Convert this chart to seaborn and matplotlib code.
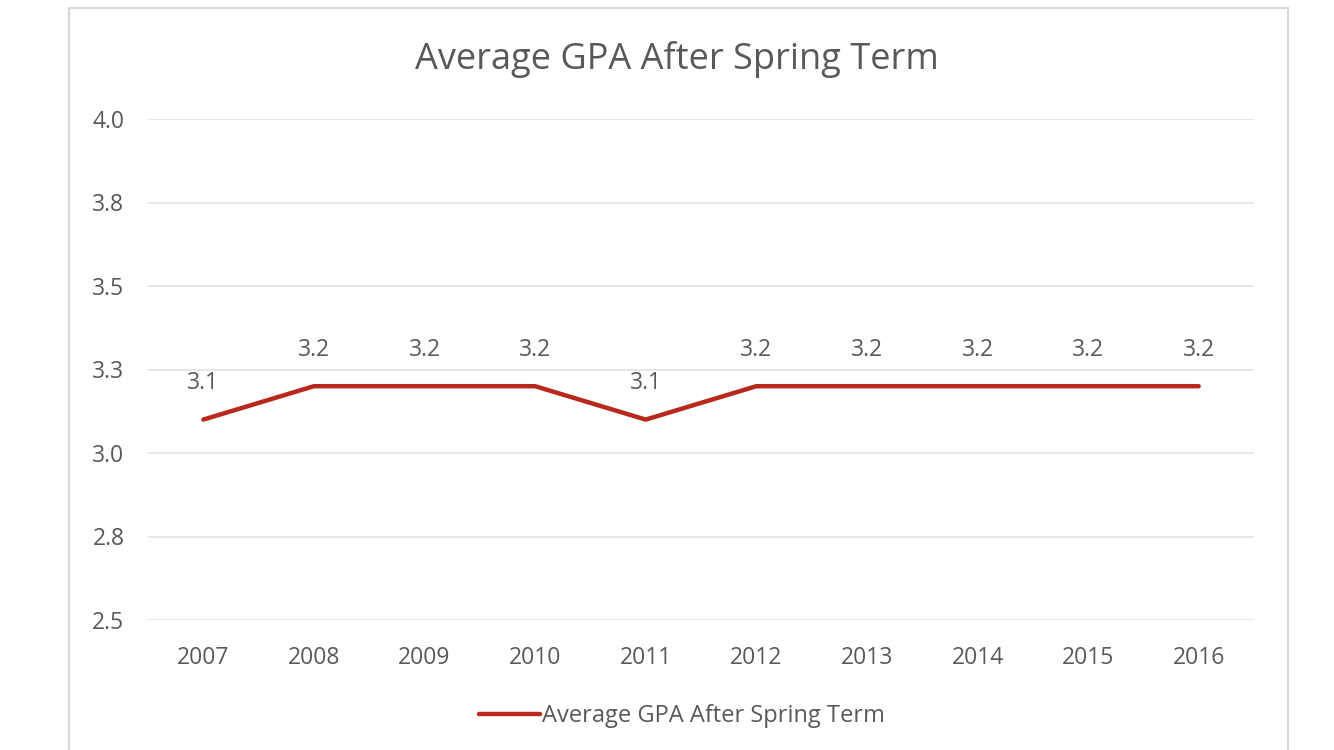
import matplotlib
matplotlib.use("Agg")
import matplotlib.pyplot as plt
import seaborn as sns
import pandas as pd
from matplotlib.patches import Rectangle

years = [2007, 2008, 2009, 2010, 2011, 2012, 2013, 2014, 2015, 2016]
gpa = [3.1, 3.2, 3.2, 3.2, 3.1, 3.2, 3.2, 3.2, 3.2, 3.2]
ytick_values = [2.5, 2.75, 3.0, 3.25, 3.5, 3.75, 4.0]
ytick_labels = ["2.5", "2.8", "3.0", "3.3", "3.5", "3.8", "4.0"]
series_name = "Average GPA After Spring Term"
title = "Average GPA After Spring Term"

sns.set_theme(style="white")
plt.rcParams['font.family'] = ['Open Sans', 'DejaVu Sans']

W, H = 1334, 750
fig = plt.figure(figsize=(W / 100, H / 100), dpi=100)
fig.patch.set_facecolor("white")

# chart border
fig.patches.append(Rectangle((69 / W, 1 - 760 / H), (1288 - 69) / W, (760 - 8) / H,
                             transform=fig.transFigure, fill=False,
                             edgecolor="#D9D9D9", linewidth=1.5))

ax = fig.add_axes([148 / W, 1 - 620 / H, (1254 - 148) / W, (620 - 119) / H])
df = pd.DataFrame({"year": years, "gpa": gpa})
line_color = "#B8281C"
sns.lineplot(data=df, x="year", y="gpa", ax=ax, color=line_color, linewidth=3.2,
             label=series_name, legend=False)

ax.set_xlim(years[0] - 0.5, years[-1] + 0.5)
ax.set_ylim(2.5, 4.0)
ax.set_yticks(ytick_values)
ax.set_yticklabels(ytick_labels)
ax.set_xticks(years)
ax.set_xticklabels([str(y) for y in years])
ax.tick_params(axis="both", length=0, labelsize=16.5, labelcolor="#595959")
ax.tick_params(axis="y", pad=17)
ax.tick_params(axis="x", pad=19)
ax.set_xlabel("")
ax.set_ylabel("")
for s in ax.spines.values():
    s.set_visible(False)
ax.grid(axis="y", color="#E3E3E3", linewidth=1.2)
ax.set_axisbelow(True)

for x, y in zip(years, gpa):
    ax.annotate(f"{y:.1f}", (x, y), xytext=(0, 26), textcoords="offset points",
                ha="center", va="center", fontsize=16.5, color="#595959")

fig.text(677 / W, 1 - 60 / H, title, ha="center", va="center", fontsize=26, color="#595959")

handles, labels = ax.get_legend_handles_labels()
leg = fig.legend(handles, labels, loc="center", bbox_to_anchor=(682 / W, 1 - 716 / H),
                 frameon=False, fontsize=17, handlelength=2.6, handletextpad=0.1,
                 labelcolor="#595959")

fig.savefig("out.png", dpi=100, facecolor="white")
